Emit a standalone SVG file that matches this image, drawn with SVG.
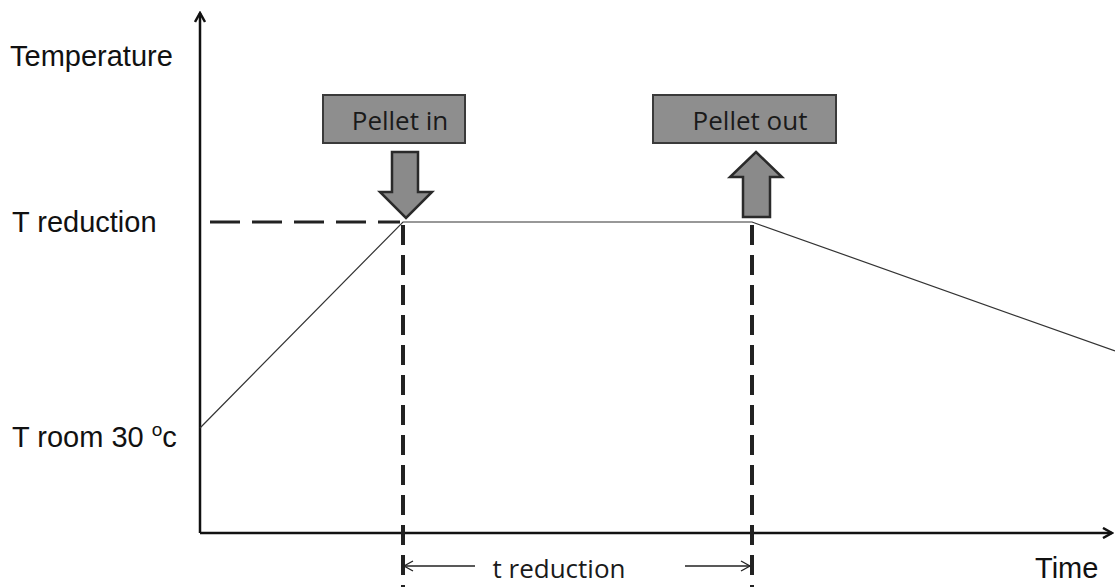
<svg xmlns="http://www.w3.org/2000/svg" width="1115" height="587" viewBox="0 0 1115 587">
<style>
.lbl{font-family:"Liberation Sans",Arial,sans-serif;font-size:29px;fill:#111}
.box{fill:#8e8e8e;stroke:#3a3a3a;stroke-width:2}
.btxt{font-family:"Open Sans","Liberation Sans",sans-serif;font-size:26px;fill:#1a1a1a;text-anchor:middle}
.arr{fill:#8a8a8a;stroke:#2a2a2a;stroke-width:2.5;stroke-linejoin:miter}
.axis{stroke:#111;stroke-width:2.5;fill:none}
.curve{stroke:#333;stroke-width:1.2;fill:none}
.vdash{stroke:#222;stroke-width:4;stroke-dasharray:20,10;fill:none}
.hdash{stroke:#222;stroke-width:3;stroke-dasharray:30,12;fill:none}
.thin{stroke:#222;stroke-width:1.3;fill:none}
</style>
<defs>
<marker id="ah" markerWidth="12" markerHeight="12" refX="10" refY="6" orient="auto" markerUnits="userSpaceOnUse">
<path d="M1,1 L10,6 L1,11" fill="none" stroke="#111" stroke-width="2.5"/>
</marker>
<marker id="sh" markerWidth="12" markerHeight="12" refX="10" refY="6" orient="auto-start-reverse" markerUnits="userSpaceOnUse">
<path d="M1,1 L10,6 L1,11" fill="none" stroke="#222" stroke-width="1.3"/>
</marker>
</defs>
<g id="connectors">
<line class="axis" x1="200" y1="533" x2="200" y2="13" marker-end="url(#ah)"/>
<line class="axis" x1="200" y1="533" x2="1112" y2="533" marker-end="url(#ah)"/>
<polyline class="curve" points="200,428 403,222 752,222 1115,351"/>
<line class="hdash" x1="210" y1="222" x2="400" y2="222"/>
<line class="vdash" x1="403" y1="225" x2="403" y2="587"/>
<line class="vdash" x1="752" y1="225" x2="752" y2="587"/>
<line class="thin" x1="404" y1="566" x2="475" y2="566" marker-start="url(#sh)"/>
<line class="thin" x1="685" y1="566" x2="750" y2="566" marker-end="url(#sh)"/>
</g>
<g id="pellet-in">
<rect class="box" x="323" y="95" width="142" height="48"/>
<text class="btxt" x="400" y="130">Pellet in</text>
<polygon class="arr" points="392,152 418,152 418,192 432,192 406,218 380,192 392,192"/>
</g>
<g id="pellet-out">
<rect class="box" x="653" y="95" width="183" height="48"/>
<text class="btxt" x="750" y="130">Pellet out</text>
<polygon class="arr" points="756,152 782,177 770,177 770,217 743,217 743,177 730,177"/>
</g>
<g id="labels">
<text class="lbl" x="10" y="66">Temperature</text>
<text class="lbl" x="12" y="232" font-size="30">T reduction</text>
<text class="lbl" x="12" y="447">T room 30 <tspan font-size="19" dy="-11">o</tspan><tspan dy="11">c</tspan></text>
<text class="lbl" x="1035" y="578">Time</text>
<text class="btxt" x="559" y="578" font-size="28">t reduction</text>
</g>
</svg>
